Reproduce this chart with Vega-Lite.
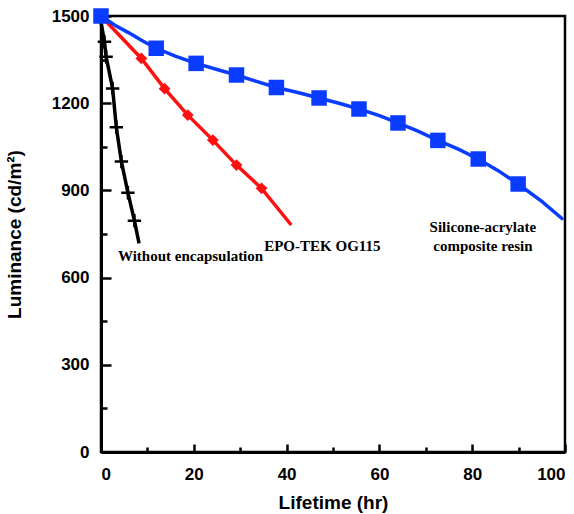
{
  "$schema": "https://vega.github.io/schema/vega-lite/v6.json",
  "width": 464,
  "height": 436,
  "autosize": {"type": "none"},
  "padding": {"left": 101, "top": 16, "right": 9, "bottom": 62},
  "config": {
    "view": {"stroke": "black", "strokeWidth": 2.5},
    "axis": {
      "grid": false,
      "domainColor": "black",
      "domainWidth": 3,
      "tickColor": "black",
      "tickWidth": 2.5,
      "labelFont": "Liberation Sans",
      "labelFontWeight": "bold",
      "labelFontSize": 17,
      "labelColor": "black",
      "titleFont": "Liberation Sans",
      "titleFontWeight": "bold",
      "titleFontSize": 19,
      "titleColor": "black"
    }
  },
  "datasets": {
    "pts": [
      {"series": "none", "kind": "line", "t": 0, "lum": 1480},
      {"series": "none", "kind": "marker", "t": 0.75, "lum": 1411},
      {"series": "none", "kind": "marker", "t": 1.1, "lum": 1360},
      {"series": "none", "kind": "marker", "t": 2.5, "lum": 1251},
      {"series": "none", "kind": "marker", "t": 3.3, "lum": 1117},
      {"series": "none", "kind": "marker", "t": 4.4, "lum": 999},
      {"series": "none", "kind": "marker", "t": 5.8, "lum": 892},
      {"series": "none", "kind": "marker", "t": 7.2, "lum": 796},
      {"series": "none", "kind": "line", "t": 8.2, "lum": 718},
      {"series": "epo", "kind": "line", "t": 0, "lum": 1500},
      {"series": "epo", "kind": "marker", "t": 8.7, "lum": 1354},
      {"series": "epo", "kind": "marker", "t": 13.7, "lum": 1250},
      {"series": "epo", "kind": "marker", "t": 18.7, "lum": 1159},
      {"series": "epo", "kind": "marker", "t": 24.1, "lum": 1073},
      {"series": "epo", "kind": "marker", "t": 29.2, "lum": 987},
      {"series": "epo", "kind": "marker", "t": 34.6, "lum": 907},
      {"series": "epo", "kind": "line", "t": 41.0, "lum": 781},
      {"series": "sil", "kind": "marker", "t": 0, "lum": 1500},
      {"series": "sil", "kind": "line", "t": 3, "lum": 1468},
      {"series": "sil", "kind": "line", "t": 6, "lum": 1442},
      {"series": "sil", "kind": "line", "t": 9, "lum": 1414},
      {"series": "sil", "kind": "marker", "t": 11.9, "lum": 1389},
      {"series": "sil", "kind": "line", "t": 16, "lum": 1362},
      {"series": "sil", "kind": "marker", "t": 20.5, "lum": 1337},
      {"series": "sil", "kind": "line", "t": 25, "lum": 1316},
      {"series": "sil", "kind": "marker", "t": 29.2, "lum": 1297},
      {"series": "sil", "kind": "line", "t": 33.5, "lum": 1275},
      {"series": "sil", "kind": "marker", "t": 37.8, "lum": 1254},
      {"series": "sil", "kind": "line", "t": 42.4, "lum": 1237},
      {"series": "sil", "kind": "marker", "t": 47.0, "lum": 1218},
      {"series": "sil", "kind": "line", "t": 51.3, "lum": 1200},
      {"series": "sil", "kind": "marker", "t": 55.6, "lum": 1180},
      {"series": "sil", "kind": "line", "t": 60, "lum": 1157},
      {"series": "sil", "kind": "marker", "t": 64.0, "lum": 1132},
      {"series": "sil", "kind": "line", "t": 68.3, "lum": 1104},
      {"series": "sil", "kind": "marker", "t": 72.6, "lum": 1072},
      {"series": "sil", "kind": "line", "t": 77, "lum": 1042},
      {"series": "sil", "kind": "marker", "t": 81.3, "lum": 1008},
      {"series": "sil", "kind": "line", "t": 85.6, "lum": 968},
      {"series": "sil", "kind": "marker", "t": 89.9, "lum": 922},
      {"series": "sil", "kind": "line", "t": 95, "lum": 862},
      {"series": "sil", "kind": "line", "t": 99.6, "lum": 800}
    ],
    "labels": [
      {"t": 19.3, "lum": 674, "text": "Without encapsulation"},
      {"t": 47.7, "lum": 709, "text": "EPO-TEK OG115"},
      {"t": 82.3, "lum": 774, "text": "Silicone-acrylate"},
      {"t": 82.3, "lum": 709, "text": "composite resin"}
    ]
  },
  "encoding": {
    "x": {
      "field": "t", "type": "quantitative",
      "scale": {"domain": [0, 100], "nice": false},
      "axis": {
        "title": "Lifetime (hr)",
        "values": [0, 10, 20, 30, 40, 50, 60, 70, 80, 90, 100],
        "labelExpr": "datum.value % 20 === 0 ? datum.label : ''",
        "tickSize": {"condition": {"test": "datum.value % 20 === 0", "value": -8}, "value": -5},
        "labelPadding": 22,
        "titlePadding": 11
      }
    },
    "y": {
      "field": "lum", "type": "quantitative",
      "scale": {"domain": [0, 1500], "nice": false},
      "axis": {
        "title": "Luminance (cd/m²)",
        "values": [0, 150, 300, 450, 600, 750, 900, 1050, 1200, 1350, 1500],
        "labelExpr": "datum.value % 300 === 0 ? datum.label : ''",
        "format": "d",
        "tickSize": {"condition": {"test": "datum.value % 300 === 0", "value": -10}, "value": -6},
        "labelPadding": 22,
        "titlePadding": 27
      }
    }
  },
  "layer": [
    {
      "data": {"name": "pts"},
      "mark": {"type": "line", "strokeWidth": 3.5},
      "encoding": {
        "color": {
          "field": "series", "type": "nominal", "legend": null,
          "scale": {"domain": ["none", "epo", "sil"], "range": ["#000000", "#ff1010", "#0a3cff"]}
        }
      }
    },
    {
      "data": {"name": "pts"},
      "transform": [{"filter": "datum.kind === 'marker' && datum.series === 'sil'"}],
      "mark": {"type": "point", "shape": "square", "filled": true, "size": 240, "color": "#0a3cff", "opacity": 1}
    },
    {
      "data": {"name": "pts"},
      "transform": [{"filter": "datum.kind === 'marker' && datum.series === 'epo'"}],
      "mark": {"type": "point", "shape": "diamond", "filled": true, "size": 140, "color": "#ff1010", "opacity": 1}
    },
    {
      "data": {"name": "pts"},
      "transform": [{"filter": "datum.kind === 'marker' && datum.series === 'none'"}],
      "mark": {"type": "point", "shape": "M-1,0H1M0,-1V1", "filled": false, "size": 180, "strokeWidth": 2.5, "color": "#000000", "opacity": 1}
    },
    {
      "data": {"name": "labels"},
      "mark": {"type": "text", "font": "Liberation Serif", "fontWeight": "bold", "fontSize": 15, "align": "center", "baseline": "middle", "color": "black"},
      "encoding": {"text": {"field": "text"}}
    }
  ]
}
